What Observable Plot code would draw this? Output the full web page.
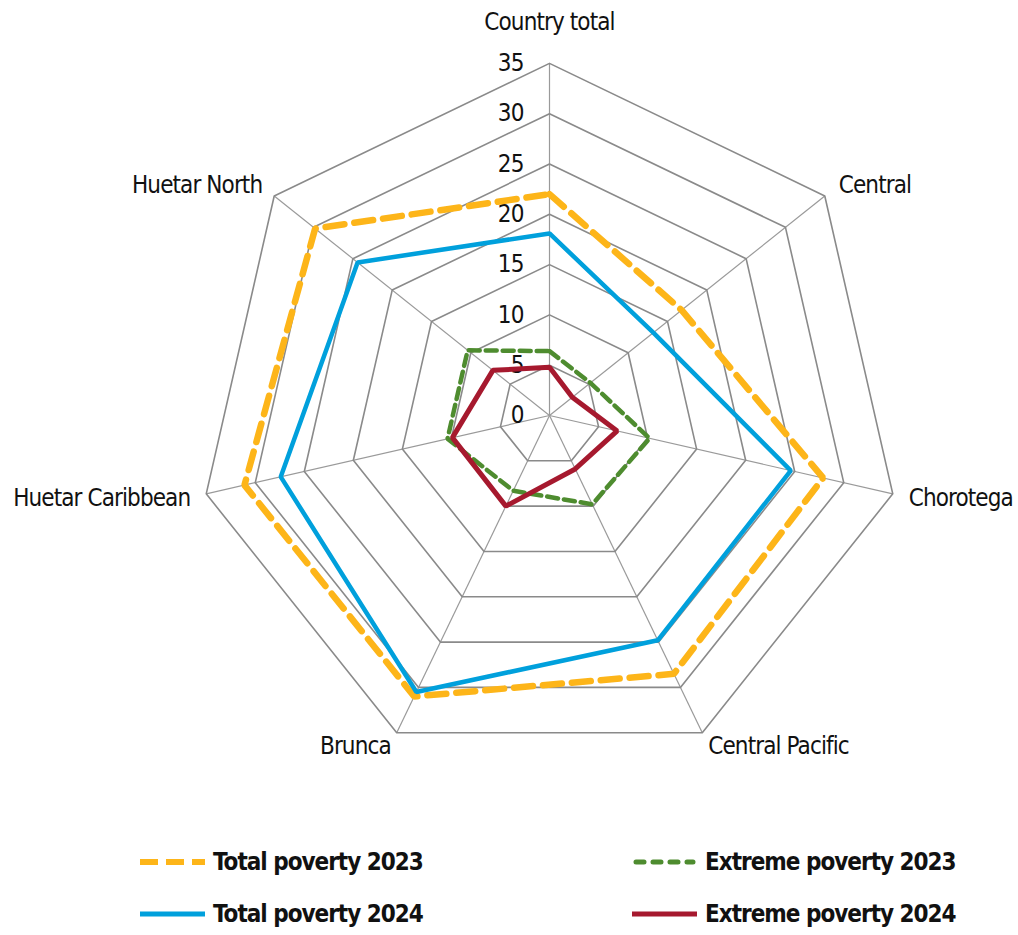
<!DOCTYPE html>
<html>
<head>
<meta charset="utf-8">
<script src="https://cdn.jsdelivr.net/npm/d3@7"></script>
<script src="https://cdn.jsdelivr.net/npm/@observablehq/plot@0.6"></script>
<style>
  html, body { margin: 0; padding: 0; background: #fff; }
  #wrap { position: relative; width: 1018px; height: 935px; overflow: hidden;
    font-family: "Liberation Sans Narrow", "DejaVu Sans Condensed", Roboto, sans-serif; font-stretch: condensed; }
  #chart { position: absolute; left: 0; top: 0; }
  .leg { position: absolute; display: flex; align-items: center; font-weight: bold; font-size: 24px; letter-spacing: -1px; color: #111; white-space: nowrap; }
  .leg svg { margin-right: 8px; }
</style>
</head>
<body>
<div id="wrap">
  <div id="chart"></div>
  <div id="legend"></div>
</div>
<script>
const categories = ["Country total", "Central", "Chorotega", "Central Pacific", "Brunca", "Huetar Caribbean", "Huetar North"];
const total2023   = [22.0, 16.8, 27.9, 28.5, 31.0, 31.1, 29.8];
const total2024   = [18.1, 13.2, 24.6, 24.8, 30.5, 27.4, 24.4];
const extreme2023 = [6.4, 5.2, 10.2, 9.8, 8.3, 10.4, 10.4];
const extreme2024 = [4.8, 2.9, 6.9, 5.9, 10.0, 9.9, 7.2];
const tickValues  = [0, 5, 10, 15, 20, 25, 30, 35];
const tickLabels  = ["0", "5", "10", "15", "20", "25", "30", "35"];
const seriesNames = ["Total poverty 2023", "Total poverty 2024", "Extreme poverty 2023", "Extreme poverty 2024"];

const W = 1018, H = 800, cx = 549, cy = 415, S = 10.06;
const n = categories.length;
const ang = i => i * 2 * Math.PI / n;
const px = (v, i) => v * Math.sin(ang(i));
const py = (v, i) => v * Math.cos(ang(i));
const maxV = tickValues[tickValues.length - 1];

const rings = tickValues.filter(t => t > 0).flatMap(t => categories.map((c, i) => ({ring: t, x: px(t, i), y: py(t, i)})));
const seriesData = [total2023, total2024, extreme2023, extreme2024].map((vals, s) =>
  vals.map((v, i) => ({series: seriesNames[s], x: px(v, i), y: py(v, i)})));

const styles = [
  {stroke: "#FDB519", strokeWidth: 6.5, strokeDasharray: "19,10"},
  {stroke: "#00A0DC", strokeWidth: 4.5},
  {stroke: "#4E8C2F", strokeWidth: 4.5, strokeDasharray: "11,6"},
  {stroke: "#A6192E", strokeWidth: 5}
];
const labelPlace = [
  {dx: 0, dy: -41, anchor: "middle"},
  {dx: 14, dy: -11, anchor: "start"},
  {dx: 16, dy: 4, anchor: "start"},
  {dx: 6, dy: 14, anchor: "start"},
  {dx: -6, dy: 14, anchor: "end"},
  {dx: -16, dy: 4, anchor: "end"},
  {dx: -12, dy: -11, anchor: "end"}
];
const font = '"Liberation Sans Narrow", "DejaVu Sans Condensed", Roboto, sans-serif';

const marks = [
  Plot.link(categories, {x1: 0, y1: 0, x2: (d, i) => px(maxV, i), y2: (d, i) => py(maxV, i), stroke: "#9a9a9a", strokeWidth: 1.2}),
  Plot.line(rings, {x: "x", y: "y", z: "ring", curve: "linear-closed", stroke: "#8a8a8a", strokeWidth: 1.6}),
  Plot.text(tickValues, {x: 0, y: d => d, text: (d, i) => tickLabels[i], textAnchor: "end", dx: -26, fontSize: 24, fill: "#111"}),
  ...seriesData.map((data, s) => Plot.line(data, {x: "x", y: "y", curve: "linear-closed", strokeLinejoin: "miter", ...styles[s]})),
  ...categories.map((c, i) => Plot.text([c], {x: px(maxV, i), y: py(maxV, i), text: d => d,
      dx: labelPlace[i].dx, dy: labelPlace[i].dy, textAnchor: labelPlace[i].anchor, fontSize: 24, fill: "#111"}))
];

const chart = Plot.plot({
  width: W, height: H,
  margin: 0,
  x: {domain: [-cx / S, (W - cx) / S], range: [0, W], axis: null},
  y: {domain: [-(H - cy) / S, cy / S], range: [H, 0], axis: null},
  style: {fontFamily: font, fontStretch: "condensed", letterSpacing: "-0.9px", background: "white", overflow: "visible"},
  marks
});
document.getElementById("chart").appendChild(chart);

// Legend
const legendPos = [
  {left: 140, top: 862}, {left: 140, top: 914}, {left: 632, top: 862}, {left: 632, top: 914}
];
const legend = document.getElementById("legend");
seriesNames.forEach((name, s) => {
  const st = styles[s];
  const div = document.createElement("div");
  div.className = "leg";
  div.style.left = legendPos[s].left + "px";
  div.style.top = (legendPos[s].top - 18) + "px";
  div.style.height = "36px";
  const dash = s === 0 ? 'stroke-dasharray="18,8"' : s === 2 ? 'stroke-dasharray="8,9" stroke-linecap="round"' : "";
  const x1 = s === 2 ? 4 : 0, x2 = s === 2 ? 61 : 65;
  div.innerHTML = `<svg width="65" height="20"><line x1="${x1}" y1="10" x2="${x2}" y2="10" stroke="${st.stroke}" stroke-width="${s === 0 ? 6 : 5}" ${dash}/></svg><span>${name}</span>`;
  legend.appendChild(div);
});
</script>
</body>
</html>
